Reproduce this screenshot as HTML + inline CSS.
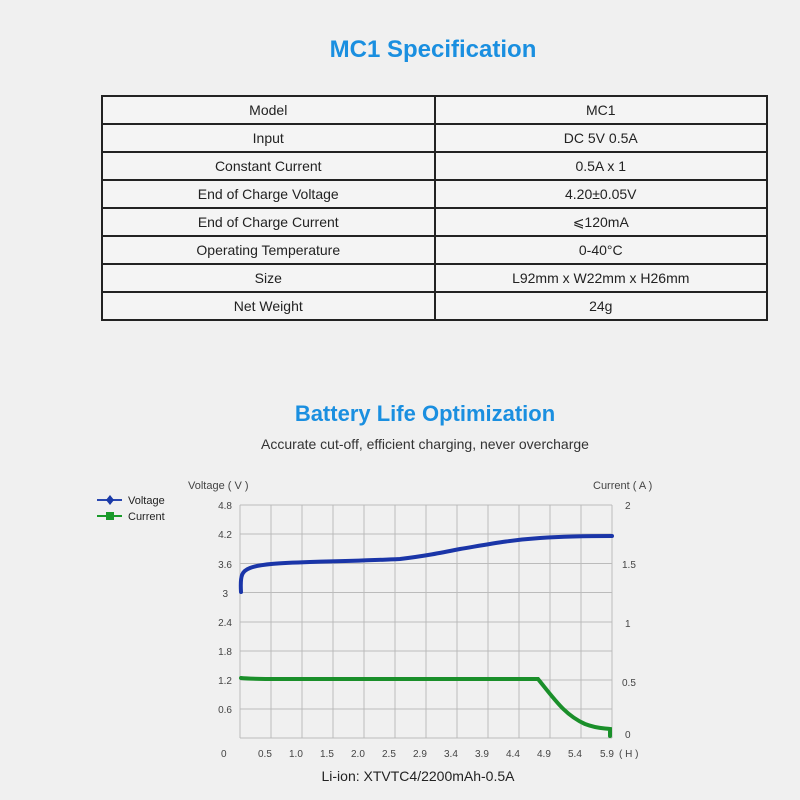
<!DOCTYPE html>
<html><head><meta charset="utf-8"><style>
body{margin:0;width:800px;height:800px;background:#f0f0f0;font-family:"Liberation Sans",sans-serif;overflow:hidden;position:relative}
.t{position:absolute;white-space:nowrap}
table{position:absolute;left:101px;top:95px;width:667px;border-collapse:collapse;background:#f4f4f4}
td{border:2px solid #222;height:26px;text-align:center;font-size:14px;color:#222;padding:0;width:50%}
</style></head><body>
<div class="t" style="left:0;width:866px;text-align:center;top:36px;font-size:24px;font-weight:bold;color:#1a8fe0">MC1 Specification</div>
<table>
<tr><td>Model</td><td>MC1</td></tr>
<tr><td>Input</td><td>DC 5V 0.5A</td></tr>
<tr><td>Constant Current</td><td>0.5A x 1</td></tr>
<tr><td>End of Charge Voltage</td><td>4.20±0.05V</td></tr>
<tr><td>End of Charge Current</td><td>⩽120mA</td></tr>
<tr><td>Operating Temperature</td><td>0-40°C</td></tr>
<tr><td>Size</td><td>L92mm x W22mm x H26mm</td></tr>
<tr><td>Net Weight</td><td>24g</td></tr>
</table>
<div class="t" style="left:0;width:850px;text-align:center;top:401px;font-size:22px;font-weight:bold;color:#1a8fe0">Battery Life Optimization</div>
<div class="t" style="left:0;width:850px;text-align:center;top:436px;font-size:14px;color:#333">Accurate cut-off, efficient charging, never overcharge</div>
<svg width="800" height="800" style="position:absolute;left:0;top:0" font-family="Liberation Sans, sans-serif">
<g stroke="#bbb" stroke-width="1">
<line x1="240" y1="505" x2="240" y2="738"/><line x1="271" y1="505" x2="271" y2="738"/><line x1="302" y1="505" x2="302" y2="738"/><line x1="333" y1="505" x2="333" y2="738"/><line x1="364" y1="505" x2="364" y2="738"/><line x1="395" y1="505" x2="395" y2="738"/><line x1="426" y1="505" x2="426" y2="738"/><line x1="457" y1="505" x2="457" y2="738"/><line x1="488" y1="505" x2="488" y2="738"/><line x1="519" y1="505" x2="519" y2="738"/><line x1="550" y1="505" x2="550" y2="738"/><line x1="581" y1="505" x2="581" y2="738"/><line x1="612" y1="505" x2="612" y2="738"/>
<line x1="240" y1="505" x2="612" y2="505"/><line x1="240" y1="534" x2="612" y2="534"/><line x1="240" y1="563.5" x2="612" y2="563.5"/><line x1="240" y1="592.5" x2="612" y2="592.5"/><line x1="240" y1="622" x2="612" y2="622"/><line x1="240" y1="651" x2="612" y2="651"/><line x1="240" y1="680" x2="612" y2="680"/><line x1="240" y1="709" x2="612" y2="709"/><line x1="240" y1="738" x2="612" y2="738"/>
</g>
<g font-size="10" fill="#444" text-anchor="end">
<text x="232" y="509">4.8</text><text x="232" y="538">4.2</text><text x="232" y="568">3.6</text><text x="228" y="597">3</text><text x="232" y="626">2.4</text><text x="232" y="655">1.8</text><text x="232" y="684">1.2</text><text x="232" y="713">0.6</text>
</g>
<g font-size="10" fill="#444">
<text x="625" y="509">2</text><text x="622" y="568">1.5</text><text x="625" y="627">1</text><text x="622" y="686">0.5</text><text x="625" y="738">0</text>
<text x="221" y="757">0</text><text x="258" y="757">0.5</text><text x="289" y="757">1.0</text><text x="320" y="757">1.5</text><text x="351" y="757">2.0</text><text x="382" y="757">2.5</text><text x="413" y="757">2.9</text><text x="444" y="757">3.4</text><text x="475" y="757">3.9</text><text x="506" y="757">4.4</text><text x="537" y="757">4.9</text><text x="568" y="757">5.4</text><text x="600" y="757">5.9</text><text x="619" y="757">( H )</text>
<text x="188" y="489" font-size="11">Voltage ( V )</text><text x="593" y="489" font-size="11">Current ( A )</text>
<text x="128" y="504" font-size="11" fill="#222">Voltage</text><text x="128" y="520" font-size="11" fill="#222">Current</text>
</g>
<line x1="97" y1="500" x2="122" y2="500" stroke="#2a48b0" stroke-width="2"/><path d="M110 495 L114 500 L110 505 L106 500Z" fill="#1a3aa8"/>
<line x1="97" y1="516" x2="122" y2="516" stroke="#1a9a2a" stroke-width="2"/><rect x="106" y="512" width="8" height="8" fill="#1a9a2a"/>
<path d="M241 592 C240 575 242 571 250 568 C260 564 280 563 310 562 C350 561 380 560 400 559 C425 556 440 553 460 549 C490 544 510 540 540 538 C570 536 590 536 612 536" fill="none" stroke="#1a35a8" stroke-width="4" stroke-linecap="round"/>
<path d="M241 678 C250 679 260 679 280 679 L538 679 C555 700 565 715 585 724 C598 729 604 728 610 729 L610 736" fill="none" stroke="#1a8f2a" stroke-width="4" stroke-linecap="round"/>
<text x="418" y="781" font-size="14" fill="#222" text-anchor="middle">Li-ion: XTVTC4/2200mAh-0.5A</text>
</svg>
</body></html>
